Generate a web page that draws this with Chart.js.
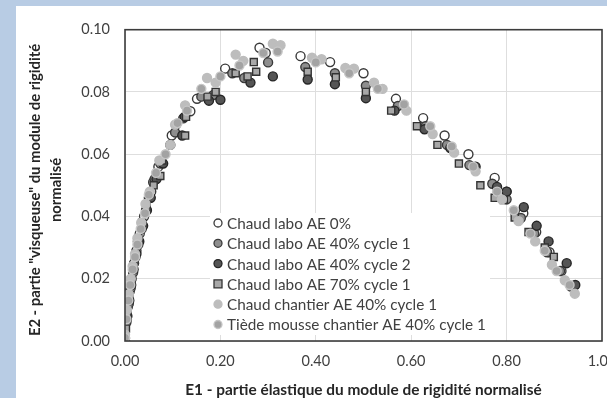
<!DOCTYPE html>
<html>
<head>
<meta charset="utf-8">
<script src="https://cdn.jsdelivr.net/npm/chart.js@4.4.1/dist/chart.umd.min.js"></script>
<style>
  html, body { margin: 0; padding: 0; width: 607px; height: 398px; overflow: hidden; background: #b8cce4; }
  #panel { position: absolute; left: 16px; top: 6px; width: 591px; height: 392px; background: #fff; overflow: hidden; }
  #chart { position: absolute; left: 0; top: 0; }
</style>
</head>
<body>
<div id="panel"><canvas id="chart" width="620" height="392"></canvas></div>
<script>
// Series names
const seriesNames = [
  'Chaud labo AE 0%',
  'Chaud labo AE 40% cycle 1',
  'Chaud labo AE 40% cycle 2',
  'Chaud labo AE 70% cycle 1',
  'Chaud chantier AE 40% cycle 1',
  'Tiède mousse chantier AE 40% cycle 1'
];

// E1 (x) / E2 (y) values, one pair of arrays per series
const labo0E1 = [0.000, 0.003, 0.006, 0.010, 0.014, 0.019, 0.024, 0.027, 0.031, 0.040, 0.050, 0.055, 0.059, 0.070, 0.098, 0.107, 0.137, 0.151, 0.210, 0.282, 0.295, 0.368, 0.430, 0.500, 0.568, 0.625, 0.670, 0.720, 0.775, 0.800, 0.835, 0.862, 0.890, 0.915];
const labo0E2 = [0.000, 0.006, 0.011, 0.016, 0.020, 0.025, 0.029, 0.032, 0.0345, 0.040, 0.046, 0.048, 0.051, 0.056, 0.066, 0.0695, 0.0738, 0.0778, 0.0875, 0.0942, 0.0925, 0.0915, 0.0896, 0.0860, 0.0778, 0.0716, 0.0660, 0.0600, 0.0524, 0.0480, 0.0410, 0.0350, 0.0285, 0.0225];

const labo40c1E1 = [0.000, 0.004, 0.008, 0.012, 0.017, 0.022, 0.028, 0.035, 0.044, 0.052, 0.062, 0.074, 0.095, 0.105, 0.122, 0.160, 0.185, 0.225, 0.250, 0.300, 0.378, 0.440, 0.505, 0.572, 0.630, 0.675, 0.722, 0.770, 0.800, 0.830, 0.858, 0.885, 0.912, 0.935];
const labo40c1E2 = [0.001, 0.007, 0.012, 0.017, 0.022, 0.027, 0.031, 0.036, 0.042, 0.046, 0.052, 0.057, 0.063, 0.067, 0.0715, 0.0785, 0.0790, 0.0860, 0.0845, 0.0895, 0.0880, 0.0860, 0.0820, 0.0755, 0.0690, 0.0630, 0.0565, 0.0505, 0.0455, 0.0395, 0.0345, 0.0285, 0.0225, 0.0175];

const labo40c2E1 = [0.000, 0.005, 0.009, 0.013, 0.018, 0.024, 0.030, 0.038, 0.046, 0.054, 0.066, 0.080, 0.120, 0.125, 0.176, 0.200, 0.263, 0.310, 0.383, 0.440, 0.505, 0.565, 0.628, 0.682, 0.735, 0.780, 0.800, 0.836, 0.863, 0.888, 0.926, 0.944];
const labo40c2E2 = [0.000, 0.008, 0.013, 0.018, 0.023, 0.028, 0.032, 0.037, 0.042, 0.046, 0.052, 0.057, 0.0660, 0.0720, 0.0772, 0.0775, 0.0830, 0.0850, 0.0840, 0.0825, 0.0780, 0.0740, 0.0680, 0.0620, 0.0560, 0.0495, 0.0480, 0.0430, 0.0370, 0.0320, 0.0250, 0.0180];

const labo70E1 = [0.000, 0.002, 0.005, 0.009, 0.013, 0.018, 0.023, 0.028, 0.036, 0.045, 0.060, 0.074, 0.078, 0.126, 0.128, 0.173, 0.190, 0.232, 0.257, 0.270, 0.275, 0.383, 0.442, 0.505, 0.558, 0.612, 0.655, 0.700, 0.745, 0.775, 0.794, 0.817, 0.846, 0.880, 0.899];
const labo70E2 = [0.000, 0.004, 0.009, 0.014, 0.019, 0.024, 0.028, 0.033, 0.038, 0.043, 0.050, 0.053, 0.058, 0.0660, 0.0720, 0.0785, 0.0800, 0.0860, 0.0850, 0.0896, 0.0865, 0.0865, 0.0847, 0.0800, 0.0740, 0.0690, 0.0630, 0.0570, 0.0500, 0.0460, 0.0453, 0.0397, 0.0350, 0.0300, 0.0270];

const chantierE1 = [0.000, 0.004, 0.008, 0.012, 0.016, 0.021, 0.026, 0.034, 0.043, 0.052, 0.072, 0.095, 0.105, 0.126, 0.172, 0.190, 0.232, 0.248, 0.310, 0.326, 0.392, 0.412, 0.462, 0.480, 0.522, 0.540, 0.590, 0.645, 0.690, 0.735, 0.790, 0.825, 0.860, 0.895, 0.922, 0.943];
const chantierE2 = [0.002, 0.010, 0.015, 0.020, 0.024, 0.028, 0.033, 0.038, 0.044, 0.048, 0.058, 0.0630, 0.0695, 0.0757, 0.0845, 0.0830, 0.0920, 0.0900, 0.0955, 0.0950, 0.0910, 0.0905, 0.0877, 0.0875, 0.0830, 0.0810, 0.0740, 0.0665, 0.0605, 0.0545, 0.0455, 0.0385, 0.0320, 0.0245, 0.0195, 0.0152];

const mousseE1 = [0.000, 0.003, 0.007, 0.011, 0.016, 0.021, 0.026, 0.033, 0.042, 0.050, 0.065, 0.085, 0.110, 0.130, 0.160, 0.200, 0.240, 0.290, 0.320, 0.400, 0.470, 0.530, 0.585, 0.640, 0.685, 0.730, 0.780, 0.815, 0.850, 0.880, 0.905, 0.932];
const mousseE2 = [0.001, 0.007, 0.013, 0.018, 0.023, 0.027, 0.031, 0.036, 0.041, 0.047, 0.054, 0.060, 0.0700, 0.0740, 0.0810, 0.0850, 0.0885, 0.0925, 0.0930, 0.0895, 0.0860, 0.0810, 0.0760, 0.0690, 0.0625, 0.0560, 0.0480, 0.0420, 0.0345, 0.0290, 0.0225, 0.0180];

// Axis ticks
const xTicks = [0, 0.2, 0.4, 0.6, 0.8, 1.0];
const yTicks = [0, 0.02, 0.04, 0.06, 0.08, 0.10];
const yTitle = ['E2 - partie "visqueuse" du module de rigidité', 'normalisé'];

const TXT = '#404040';
const FONT = 'Lato, "Liberation Sans", sans-serif';

function pairs(xs, ys) {
  return xs.map((x, i) => ({ x: x, y: ys[i] }));
}

// marker styles, in the same order as the series
const styles = [
  { pointStyle: 'circle', bg: '#ffffff', border: '#3a3a3a', r: 4.5 },
  { pointStyle: 'circle', bg: '#8e8e8e', border: '#3a3a3a', r: 4.5 },
  { pointStyle: 'circle', bg: '#555555', border: '#262626', r: 4.5 },
  { pointStyle: 'rect',   bg: '#a8a8a8', border: '#333333', r: 5 },
  { pointStyle: 'circle', bg: '#bdbdbd', border: '#bdbdbd', r: 4.5 },
  { pointStyle: 'circle', bg: '#a3a3a3', border: '#c6c6c6', r: 4.5 }
];

const seriesData = [
  pairs(labo0E1, labo0E2),
  pairs(labo40c1E1, labo40c1E2),
  pairs(labo40c2E1, labo40c2E2),
  pairs(labo70E1, labo70E2),
  pairs(chantierE1, chantierE2),
  pairs(mousseE1, mousseE2)
];

// Legend drawn inside the plot on a white box, the dark frame and the y title
const insideLegend = {
  id: 'insideLegend',
  afterDatasetsDraw(chart) {
    const ctx = chart.ctx;
    const a = chart.chartArea;
    ctx.save();
    ctx.fillStyle = '#ffffff';
    ctx.fillRect(194, 207, 280, 122);
    ctx.font = '15.3px ' + FONT;
    ctx.textBaseline = 'middle';
    chart.data.datasets.forEach((ds, i) => {
      const y = 217 + i * 20.3;
      const x = 202;
      const s = styles[i];
      ctx.fillStyle = s.bg;
      ctx.strokeStyle = s.border;
      ctx.lineWidth = 1.3;
      ctx.beginPath();
      if (s.pointStyle === 'rect') {
        ctx.rect(x - 4, y - 4, 8, 8);
      } else {
        ctx.arc(x, y, 4, 0, Math.PI * 2);
      }
      ctx.fill();
      ctx.stroke();
      ctx.fillStyle = TXT;
      ctx.fillText(ds.label, 211, y + 1);
    });
    ctx.strokeStyle = '#3c3c3c';
    ctx.lineWidth = 1.6;
    ctx.strokeRect(a.left, a.top, a.right - a.left, a.bottom - a.top);

    // rotated y axis title, two lines
    ctx.translate(0, 184);
    ctx.rotate(-Math.PI / 2);
    ctx.font = 'bold 14.8px ' + FONT;
    ctx.fillStyle = '#262626';
    ctx.textAlign = 'center';
    ctx.fillText(yTitle[0], 0, 19);
    ctx.fillText(yTitle[1], 0, 40);
    ctx.restore();
  }
};

new Chart(document.getElementById('chart'), {
  type: 'scatter',
  data: {
    datasets: seriesNames.map((name, i) => ({
      label: name,
      data: seriesData[i],
      pointStyle: styles[i].pointStyle,
      backgroundColor: styles[i].bg,
      borderColor: styles[i].border,
      borderWidth: 1.4,
      pointRadius: styles[i].r,
      order: 6 - i
    }))
  },
  options: {
    responsive: false,
    animation: false,
    devicePixelRatio: 1,
    layout: { padding: { left: 0, top: 12, right: 34, bottom: 0 } },
    plugins: {
      legend: { display: false },
      tooltip: { enabled: false }
    },
    scales: {
      x: {
        type: 'linear',
        min: 0, max: 1.0,
        afterBuildTicks: (s) => { s.ticks = xTicks.map(v => ({ value: v })); },
        afterFit: (s) => { s.height = 57; },
        grid: { color: '#dedede', lineWidth: 1, drawTicks: false },
        border: { display: false },
        ticks: {
          padding: 12,
          color: TXT,
          font: { family: FONT, size: 14.5 },
          callback: (v) => v.toFixed(2)
        },
        title: {
          display: true,
          text: 'E1 - partie élastique du module de rigidité normalisé',
          color: '#262626',
          font: { family: FONT, size: 15.4, weight: 'bold' },
          padding: { top: 0, bottom: -1 }
        }
      },
      y: {
        type: 'linear',
        min: 0, max: 0.10,
        afterBuildTicks: (s) => { s.ticks = yTicks.map(v => ({ value: v })); },
        afterFit: (s) => { s.width = 109; },
        grid: { color: '#dedede', lineWidth: 1, drawTicks: false },
        border: { display: false },
        ticks: {
          padding: 15,
          color: TXT,
          font: { family: FONT, size: 14.5 },
          callback: (v) => v.toFixed(2)
        },
        title: { display: false }
      }
    }
  },
  plugins: [insideLegend]
});
</script>
</body>
</html>
